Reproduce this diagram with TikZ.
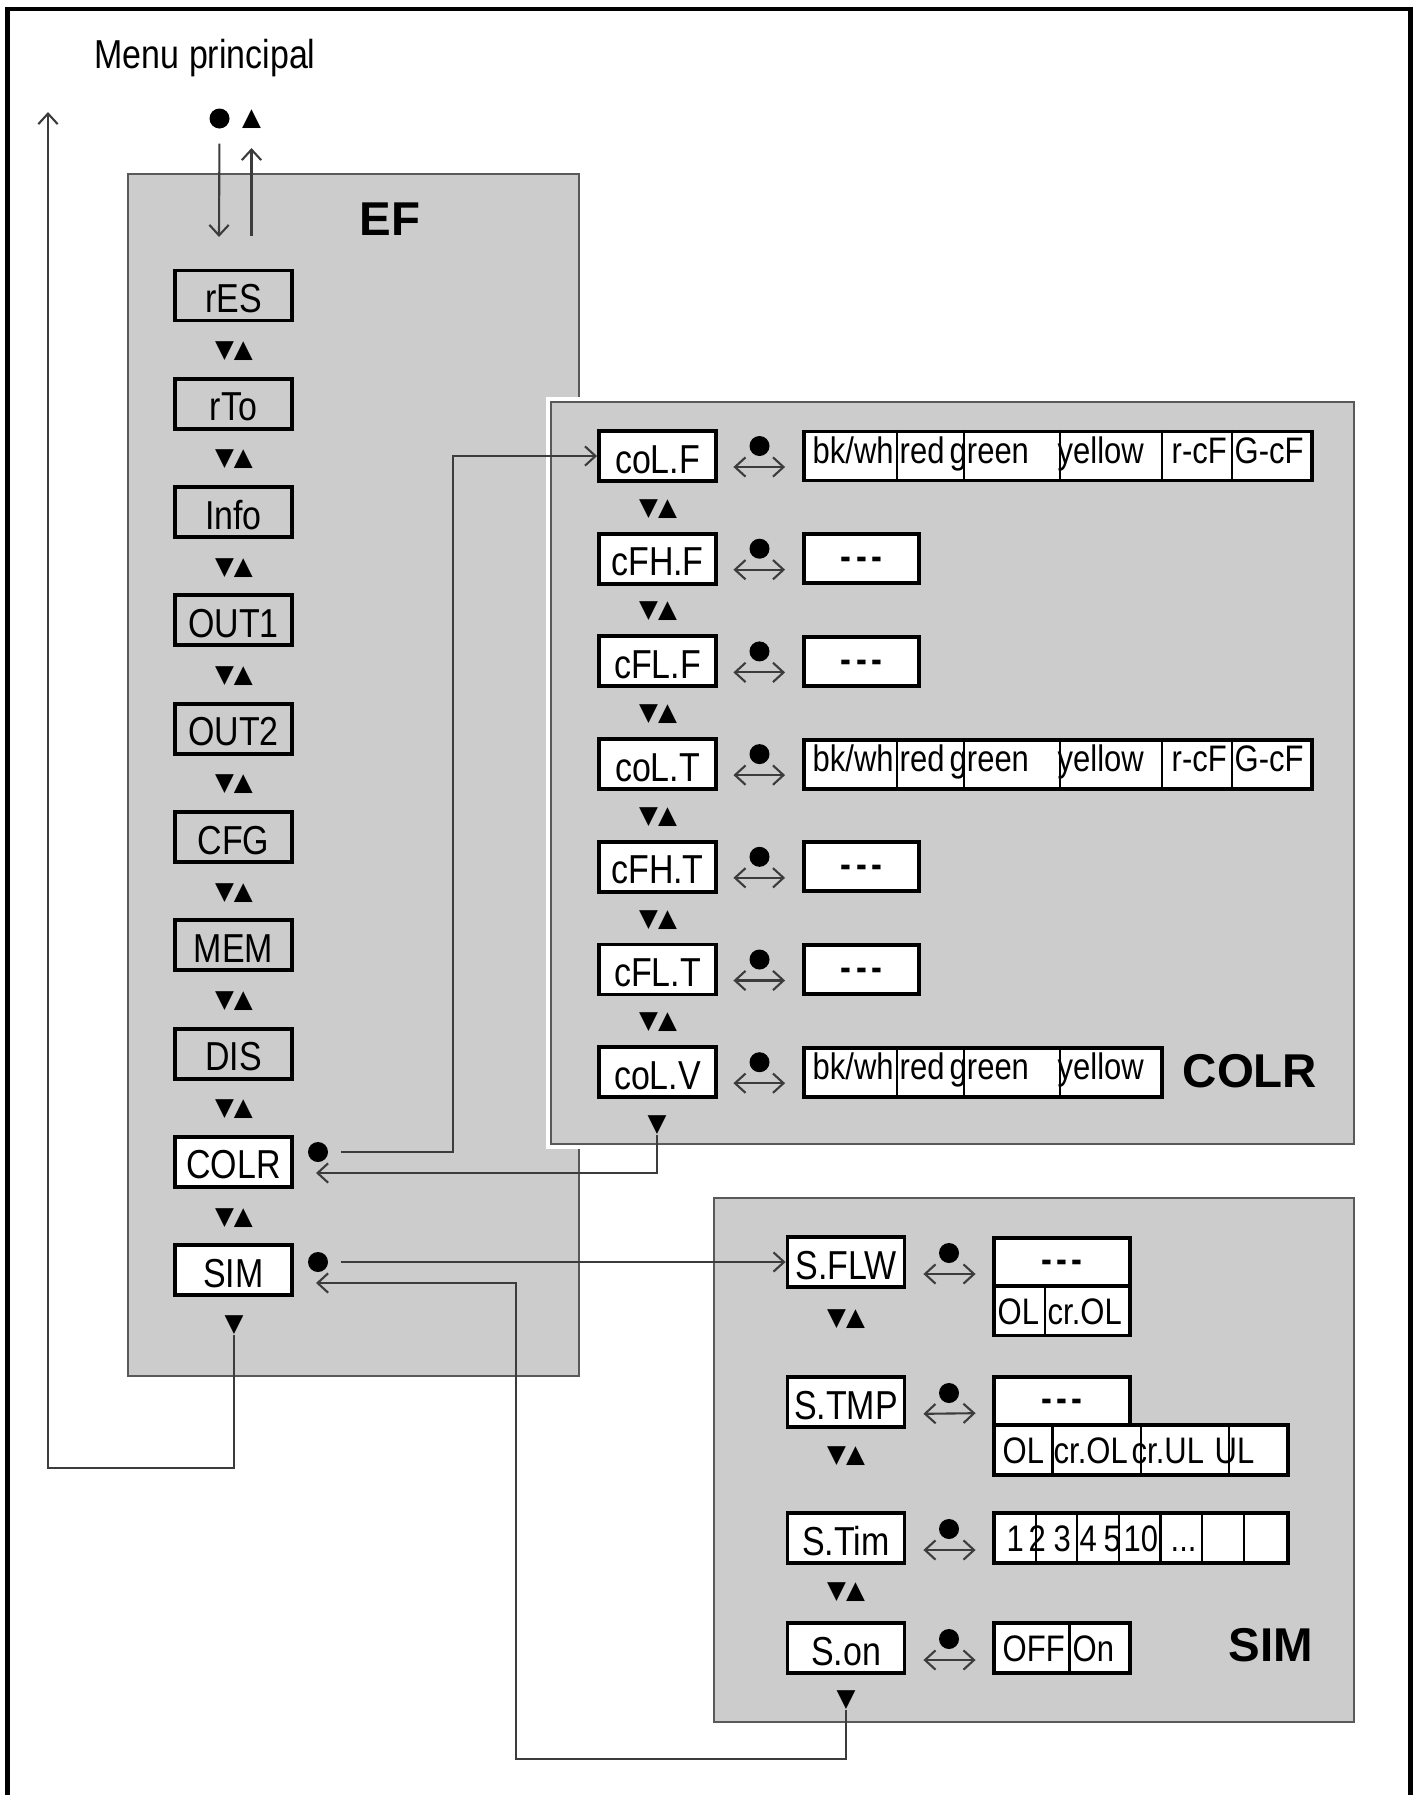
\documentclass[tikz,border=0pt]{standalone}
\usepackage{fontspec}
\setmainfont{Liberation Sans}[FakeStretch=0.84]
\newfontfamily\headfont{Liberation Sans}
\newfontfamily\symfont{DejaVu Sans}
\usetikzlibrary{arrows.meta, positioning, calc}

\definecolor{panelgray}{RGB}{204,204,204}
\definecolor{linegray}{RGB}{60,60,60}
\newcommand{\tripledash}{-\kern1.3pt-\kern1.3pt-}

\begin{document}
\begin{tikzpicture}[
  x=1cm, y=-1cm,
  keybox/.style={rectangle, draw=black, line width=1.1pt, fill=panelgray,
                 minimum width=1.17cm, minimum height=0.5cm, inner sep=0pt,
                 text height=3.4mm, text depth=0pt,
                 font=\fontsize{11.5}{13}\selectfont},
  selbox/.style={keybox, fill=white},
  valbox/.style={rectangle, draw=black, line width=1.1pt, fill=white,
                 minimum height=0.49cm, inner sep=0pt},
  valtxt/.style={anchor=base west, inner sep=0pt,
                 font=\fontsize{10.5}{12}\selectfont},
  dashtxt/.style={inner sep=0pt, yshift=-0.45mm,
                  font=\bfseries\fontsize{11}{12}\selectfont},
  panel/.style={rectangle, draw=black!65, line width=0.5pt, fill=panelgray,
                inner sep=0pt},
  paneltitle/.style={inner sep=0pt,
                     font=\headfont\bfseries\fontsize{13.5}{16}\selectfont},
  updown/.style={inner sep=0pt, font=\symfont\fontsize{7}{8}\selectfont},
  pressdot/.style={circle, fill=black, inner sep=0pt, minimum size=0.2cm},
  arrow/.style={-{Straight Barb[length=3pt,width=5.5pt]}, line width=0.6pt,
                draw=linegray},
  biarrow/.style={{Straight Barb[length=3pt,width=5.5pt]}-{Straight Barb[length=3pt,width=5.5pt]},
                  line width=0.6pt, draw=linegray},
  divider/.style={line width=0.6pt}
]

\useasboundingbox (0,0) rectangle (14.15,17.95);

% Outer frame (open at the bottom)
\draw[line width=1.3pt] (0.075,17.95) |- (14.105,0.09) -- (14.105,17.95);

% Main menu entry
\node[anchor=base west, inner sep=0pt, font=\fontsize{11.5}{13}\selectfont] (menu) at (0.94,0.68) {Menu principal};
\node[pressdot] (topdot) at (2.195,1.185) {};
\node[updown] (topup) at (2.515,1.19) {▲};
\coordinate (menuback) at (0.48,1.12);
\coordinate (menuout)  at (2.515,1.48);
\coordinate (efin)     at (2.19,2.37);
\coordinate (efout)    at (2.515,2.36);

% Panels
\node[panel, minimum width=4.51cm, minimum height=12.02cm] (efpanel) at (3.535,7.75) {};
\node[panel, minimum width=8.03cm, minimum height=7.42cm,
      preaction={draw=white, line width=1mm}] (colrpanel) at (9.525,7.73) {};
\node[panel, minimum width=6.40cm, minimum height=5.24cm] (simpanel) at (10.34,14.60) {};

\node[paneltitle] (eftitle)   at (3.90,2.19)   {EF};
\node[paneltitle] (colrtitle) at (12.50,10.71) {COLR};
\node[paneltitle] (simtitle)  at (12.71,16.45) {SIM};

% EF column
\node[keybox] (res)  at (2.335,2.955)  {rES};
\node[keybox] (rto)  at (2.335,4.038)  {rTo};
\node[keybox] (info) at (2.335,5.121)  {Info};
\node[keybox] (outa) at (2.335,6.204)  {OUT1};
\node[keybox] (outb) at (2.335,7.287)  {OUT2};
\node[keybox] (cfg)  at (2.335,8.370)  {CFG};
\node[keybox] (mem)  at (2.335,9.453)  {MEM};
\node[keybox] (dis)  at (2.335,10.536) {DIS};
\node[selbox] (colr) at (2.335,11.619) {COLR};
\node[selbox] (sim)  at (2.335,12.702) {SIM};

\node[updown] (ud1) at (2.34,3.51)   {▼▲};
\node[updown] (ud2) at (2.34,4.595)  {▼▲};
\node[updown] (ud3) at (2.34,5.678)  {▼▲};
\node[updown] (ud4) at (2.34,6.76)   {▼▲};
\node[updown] (ud5) at (2.34,7.844)  {▼▲};
\node[updown] (ud6) at (2.34,8.927)  {▼▲};
\node[updown] (ud7) at (2.34,10.01)  {▼▲};
\node[updown] (ud8) at (2.34,11.093) {▼▲};
\node[updown] (ud9) at (2.34,12.176) {▼▲};
\node[updown] (simdown) at (2.34,13.25) {▼};

\node[pressdot] (colrdot) at (3.18,11.52)  {};
\node[pressdot] (simdot)  at (3.18,12.62)  {};
\coordinate (colrin)  at (3.16,11.73);
\coordinate (simin)   at (3.16,12.83);
\coordinate (colturn) at (4.53,4.56);
\coordinate (simturn) at (5.16,17.59);
\coordinate (exitturn) at (0.48,14.68);

% COLR column
\node[selbox] (colf) at (6.575,4.56)   {coL.F};
\node[selbox] (cfhf) at (6.575,5.587)  {cFH.F};
\node[selbox] (cflf) at (6.575,6.614)  {cFL.F};
\node[selbox] (colt) at (6.575,7.641)  {coL.T};
\node[selbox] (cfht) at (6.575,8.668)  {cFH.T};
\node[selbox] (cflt) at (6.575,9.695)  {cFL.T};
\node[selbox] (colv) at (6.575,10.722) {coL.V};

\node[updown] (cud1) at (6.58,5.09)  {▼▲};
\node[updown] (cud2) at (6.58,6.115) {▼▲};
\node[updown] (cud3) at (6.58,7.143) {▼▲};
\node[updown] (cud4) at (6.58,8.17)  {▼▲};
\node[updown] (cud5) at (6.58,9.197) {▼▲};
\node[updown] (cud6) at (6.58,10.224) {▼▲};
\node[updown] (colvdown) at (6.57,11.25) {▼};

\node[pressdot] (dcolf) at (7.595,4.46)   {};
\node[pressdot] (dcfhf) at (7.595,5.487)  {};
\node[pressdot] (dcflf) at (7.595,6.514)  {};
\node[pressdot] (dcolt) at (7.595,7.541)  {};
\node[pressdot] (dcfht) at (7.595,8.568)  {};
\node[pressdot] (dcflt) at (7.595,9.595)  {};
\node[pressdot] (dcolv) at (7.595,10.622) {};

% COLR values
\node[valbox, minimum width=5.08cm] (colfval) at (10.58,4.56)  {};
\node[valbox, minimum width=1.15cm] (cfhfval) at (8.615,5.587) {};
\node[valbox, minimum width=1.15cm] (cflfval) at (8.615,6.614) {};
\node[valbox, minimum width=5.08cm] (coltval) at (10.58,7.641) {};
\node[valbox, minimum width=1.15cm] (cfhtval) at (8.615,8.668) {};
\node[valbox, minimum width=1.15cm] (cfltval) at (8.615,9.695) {};
\node[valbox, minimum width=3.58cm] (colvval) at (9.83,10.722) {};

\draw[divider] (colfval.north -| 8.97,0) -- (colfval.south -| 8.97,0)
               (colfval.north -| 9.64,0) -- (colfval.south -| 9.64,0)
               (colfval.north -| 10.60,0) -- (colfval.south -| 10.60,0)
               (colfval.north -| 11.62,0) -- (colfval.south -| 11.62,0)
               (colfval.north -| 12.32,0) -- (colfval.south -| 12.32,0);
\draw[divider] (coltval.north -| 8.97,0) -- (coltval.south -| 8.97,0)
               (coltval.north -| 9.64,0) -- (coltval.south -| 9.64,0)
               (coltval.north -| 10.60,0) -- (coltval.south -| 10.60,0)
               (coltval.north -| 11.62,0) -- (coltval.south -| 11.62,0)
               (coltval.north -| 12.32,0) -- (coltval.south -| 12.32,0);
\draw[divider] (colvval.north -| 8.97,0) -- (colvval.south -| 8.97,0)
               (colvval.north -| 9.64,0) -- (colvval.south -| 9.64,0)
               (colvval.north -| 10.60,0) -- (colvval.south -| 10.60,0);

\node[valtxt] (colfbk)  at (8.12,4.63)  {bk/wh};
\node[valtxt] (colfrd)  at (8.99,4.63)  {red};
\node[valtxt] (colfgn)  at (9.49,4.63)  {green};
\node[valtxt] (colfye)  at (10.57,4.63) {yellow};
\node[valtxt] (colfrc)  at (11.71,4.63) {r-cF};
\node[valtxt] (colfgc)  at (12.34,4.63) {G-cF};
\node[valtxt] (coltbk)  at (8.12,7.711)  {bk/wh};
\node[valtxt] (coltrd)  at (8.99,7.711)  {red};
\node[valtxt] (coltgn)  at (9.49,7.711)  {green};
\node[valtxt] (coltye)  at (10.57,7.711) {yellow};
\node[valtxt] (coltrc)  at (11.71,7.711) {r-cF};
\node[valtxt] (coltgc)  at (12.34,7.711) {G-cF};
\node[valtxt] (colvbk)  at (8.12,10.792)  {bk/wh};
\node[valtxt] (colvrd)  at (8.99,10.792)  {red};
\node[valtxt] (colvgn)  at (9.49,10.792)  {green};
\node[valtxt] (colvye)  at (10.57,10.792) {yellow};

\node[dashtxt] (cfhfdash) at (cfhfval) {\tripledash};
\node[dashtxt] (cflfdash) at (cflfval) {\tripledash};
\node[dashtxt] (cfhtdash) at (cfhtval) {\tripledash};
\node[dashtxt] (cfltdash) at (cfltval) {\tripledash};

% SIM column
\node[selbox] (sflw) at (8.46,12.62) {S.FLW};
\node[selbox] (stmp) at (8.46,14.02) {S.TMP};
\node[selbox] (stim) at (8.46,15.38) {S.Tim};
\node[selbox] (son)  at (8.46,16.48) {S.on};

\node[updown] (sud1) at (8.46,13.19) {▼▲};
\node[updown] (sud2) at (8.46,14.56) {▼▲};
\node[updown] (sud3) at (8.46,15.92) {▼▲};
\node[updown] (sondown) at (8.46,17.00) {▼};

\node[pressdot] (dsflw) at (9.49,12.53) {};
\node[pressdot] (dstmp) at (9.49,13.93) {};
\node[pressdot] (dstim) at (9.49,15.29) {};
\node[pressdot] (dson)  at (9.49,16.39) {};

% SIM values
\node[valbox, minimum width=1.36cm, minimum height=0.48cm] (sflwtop) at (10.62,12.62) {};
\node[valbox, minimum width=1.36cm, minimum height=0.49cm] (sflwbot) at (10.62,13.11) {};
\node[valbox, minimum width=1.36cm, minimum height=0.48cm] (stmptop) at (10.62,14.01) {};
\node[valbox, minimum width=2.94cm, minimum height=0.50cm] (stmpbot) at (11.41,14.50) {};
\node[valbox, minimum width=2.94cm, minimum height=0.50cm] (stimval) at (11.41,15.38) {};
\node[valbox, minimum width=1.36cm, minimum height=0.50cm] (sonval)  at (10.62,16.48) {};

\draw[divider] (sflwbot.north -| 10.45,0) -- (sflwbot.south -| 10.45,0);
\draw[divider] (stmpbot.north -| 10.525,0) -- (stmpbot.south -| 10.525,0)
               (stmpbot.north -| 11.41,0) -- (stmpbot.south -| 11.41,0)
               (stmpbot.north -| 12.29,0) -- (stmpbot.south -| 12.29,0);
\draw[divider] (stimval.north -| 10.36,0) -- (stimval.south -| 10.36,0)
               (stimval.north -| 10.77,0) -- (stimval.south -| 10.77,0)
               (stimval.north -| 11.19,0) -- (stimval.south -| 11.19,0)
               (stimval.north -| 11.605,0) -- (stimval.south -| 11.605,0)
               (stimval.north -| 12.02,0) -- (stimval.south -| 12.02,0)
               (stimval.north -| 12.44,0) -- (stimval.south -| 12.44,0);
\draw[divider] (sonval.north -| 10.695,0) -- (sonval.south -| 10.695,0);

\node[dashtxt] (sflwdash) at (sflwtop) {\tripledash};
\node[dashtxt] (stmpdash) at (stmptop) {\tripledash};
\node[valtxt] (sflwol)   at (9.97,13.24)  {OL};
\node[valtxt] (sflwcrol) at (10.47,13.24) {cr.OL};
\node[valtxt] (stmpol)   at (10.02,14.63) {OL};
\node[valtxt] (stmpcrol) at (10.53,14.63) {cr.OL};
\node[valtxt] (stmpcrul) at (11.31,14.63) {cr.UL};
\node[valtxt] (stmpul)   at (12.14,14.63) {UL};
\node[valtxt] (stima)    at (10.06,15.51) {1};
\node[valtxt] (stimb)    at (10.28,15.51) {2};
\node[valtxt] (stimc)    at (10.53,15.51) {3};
\node[valtxt] (stimd)    at (10.79,15.51) {4};
\node[valtxt] (stime)    at (11.03,15.51) {5};
\node[valtxt] (stimf)    at (11.23,15.51) {10};
\node[valtxt] (stimg)    at (11.70,15.51) {...};
\node[valtxt] (sonoff)   at (10.02,16.61) {OFF};
\node[valtxt] (sonon)    at (10.72,16.61) {On};

% --- Arrows ---
% Main menu <-> EF
\draw[arrow, shorten <=0.145cm] (topdot.south) -- (efin);
\draw[arrow] (efout) -- (menuout);
\draw[arrow] (simdown.south) |- (exitturn) -- (menuback);

% EF -> COLR and back
\draw[arrow, shorten <=0.12cm] (colrdot.east) -| (colturn) -- (colf.west);
\draw[arrow] (colvdown.south) |- (colrin);

% EF -> SIM and back
\draw[arrow, shorten <=0.12cm] (simdot.east) -- (sflw.west);
\draw[arrow] (sondown.south) |- (simturn) |- (simin);

% Key <-> value toggles
\draw[biarrow, shorten <=1.55mm, shorten >=1.7mm] ([yshift=-1.1mm]colf.east) -- ([yshift=-1.1mm]colfval.west);
\draw[biarrow, shorten <=1.55mm, shorten >=1.7mm] ([yshift=-1.1mm]cfhf.east) -- ([yshift=-1.1mm]cfhfval.west);
\draw[biarrow, shorten <=1.55mm, shorten >=1.7mm] ([yshift=-1.1mm]cflf.east) -- ([yshift=-1.1mm]cflfval.west);
\draw[biarrow, shorten <=1.55mm, shorten >=1.7mm] ([yshift=-1.1mm]colt.east) -- ([yshift=-1.1mm]coltval.west);
\draw[biarrow, shorten <=1.55mm, shorten >=1.7mm] ([yshift=-1.1mm]cfht.east) -- ([yshift=-1.1mm]cfhtval.west);
\draw[biarrow, shorten <=1.55mm, shorten >=1.7mm] ([yshift=-1.1mm]cflt.east) -- ([yshift=-1.1mm]cfltval.west);
\draw[biarrow, shorten <=1.55mm, shorten >=1.7mm] ([yshift=-1.1mm]colv.east) -- ([yshift=-1.1mm]colvval.west);
\draw[biarrow, shorten <=1.7mm, shorten >=1.65mm] ([yshift=-1.2mm]sflw.east) -- ([yshift=-1.2mm]sflwtop.west);
\draw[biarrow, shorten <=1.7mm, shorten >=1.65mm] ([yshift=-1.2mm]stmp.east) -- ([yshift=-1.2mm]stmptop.west);
\draw[biarrow, shorten <=1.7mm, shorten >=1.65mm] ([yshift=-1.2mm]stim.east) -- ([yshift=-1.2mm]stimval.west);
\draw[biarrow, shorten <=1.7mm, shorten >=1.65mm] ([yshift=-1.2mm]son.east) -- ([yshift=-1.2mm]sonval.west);

\end{tikzpicture}
\end{document}
